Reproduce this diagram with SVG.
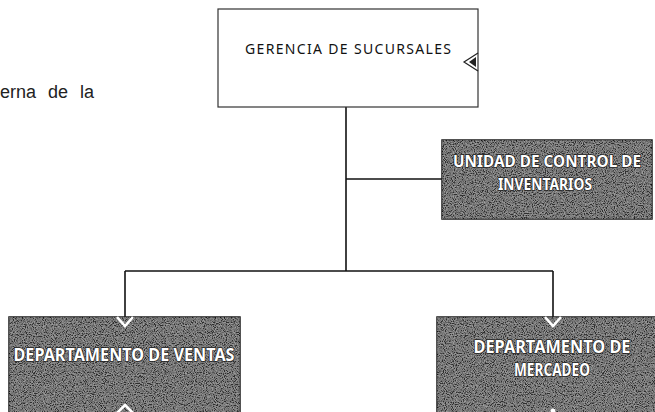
<svg xmlns="http://www.w3.org/2000/svg" width="655" height="412" viewBox="0 0 655 412">
  <style>
    .conn { stroke: #111; stroke-width: 1.6; fill: none; }
    .dark { fill: #555555; stroke: #1a1a1a; stroke-width: 1.5; }
    .light { fill: #ffffff; stroke: #333; stroke-width: 1.2; }
    .wt { font-family: "Noto Sans", "Liberation Sans", sans-serif; font-weight: bold; font-size: 18px; fill: #ffffff; stroke: #222; stroke-width: 1.5; paint-order: stroke; text-anchor: middle; }
    .wts { font-size: 16px; }
    .bt { font-family: "Noto Sans", "Liberation Sans", sans-serif; font-size: 14px; fill: #111; text-anchor: middle; }
    .body { font-family: "Liberation Sans", Arial, sans-serif; font-size: 18px; fill: #222; }
    .chev { fill: none; stroke: #ffffff; stroke-width: 2.6; }
  </style>
  <defs>
    <filter id="grain" x="0" y="0" width="100%" height="100%">
      <feTurbulence type="fractalNoise" baseFrequency="0.9" numOctaves="2" seed="7" result="n"/>
      <feColorMatrix in="n" type="matrix" values="2.2 0 0 0 -0.75  2.2 0 0 0 -0.75  2.2 0 0 0 -0.75  0 0 0 0 1" result="g"/>
      <feComposite in="g" in2="SourceGraphic" operator="in"/>
    </filter>
  </defs>

  <rect width="655" height="412" fill="#ffffff"/>

  <text class="body" x="0" y="98" word-spacing="7">erna de la</text>

  <g id="connectors">
    <line class="conn" x1="346" y1="107" x2="346" y2="271"/>
    <line class="conn" x1="346" y1="179" x2="442" y2="179"/>
    <line class="conn" x1="125" y1="271" x2="553" y2="271"/>
    <line class="conn" x1="125" y1="271" x2="125" y2="323"/>
    <line class="conn" x1="553" y1="271" x2="553" y2="323"/>
  </g>

  <g id="gerencia">
    <rect class="light" x="218" y="9" width="260" height="98"/>
    <text class="bt" x="348" y="54" textLength="206" lengthAdjust="spacing">GERENCIA DE SUCURSALES</text>
    <path d="M478 53 L464 62 L478 71" fill="none" stroke="#222" stroke-width="1.2"/>
    <path d="M476 57 L469 62 L476 67 Z" fill="#222"/>
  </g>

  <g id="unidad">
    <rect class="dark" x="442" y="140" width="210" height="79"/>
    <rect x="442" y="140" width="210" height="79" filter="url(#grain)" opacity="0.45"/>
    <text class="wt wts" x="547" y="167" textLength="188" lengthAdjust="spacingAndGlyphs">UNIDAD DE CONTROL DE</text>
    <text class="wt wts" x="545" y="190" textLength="94" lengthAdjust="spacingAndGlyphs">INVENTARIOS</text>
  </g>

  <g id="ventas">
    <rect class="dark" x="9" y="317" width="231" height="100"/>
    <rect x="9" y="317" width="231" height="100" filter="url(#grain)" opacity="0.45"/>
    <text class="wt" x="124" y="361" textLength="221" lengthAdjust="spacingAndGlyphs">DEPARTAMENTO DE VENTAS</text>
    <polyline class="chev" points="117,317 125,326 133,317"/>
    <polyline class="chev" points="117,413 125,405 133,413"/>
  </g>

  <g id="mercadeo">
    <rect class="dark" x="437" y="317" width="222" height="100"/>
    <rect x="437" y="317" width="222" height="100" filter="url(#grain)" opacity="0.45"/>
    <text class="wt" x="552" y="353" textLength="157" lengthAdjust="spacingAndGlyphs">DEPARTAMENTO DE</text>
    <text class="wt" x="552" y="376" textLength="76" lengthAdjust="spacingAndGlyphs">MERCADEO</text>
    <polyline class="chev" points="545,317 553,326 561,317"/>
    <circle cx="553" cy="411" r="2.5" fill="#ffffff"/>
  </g>
</svg>
